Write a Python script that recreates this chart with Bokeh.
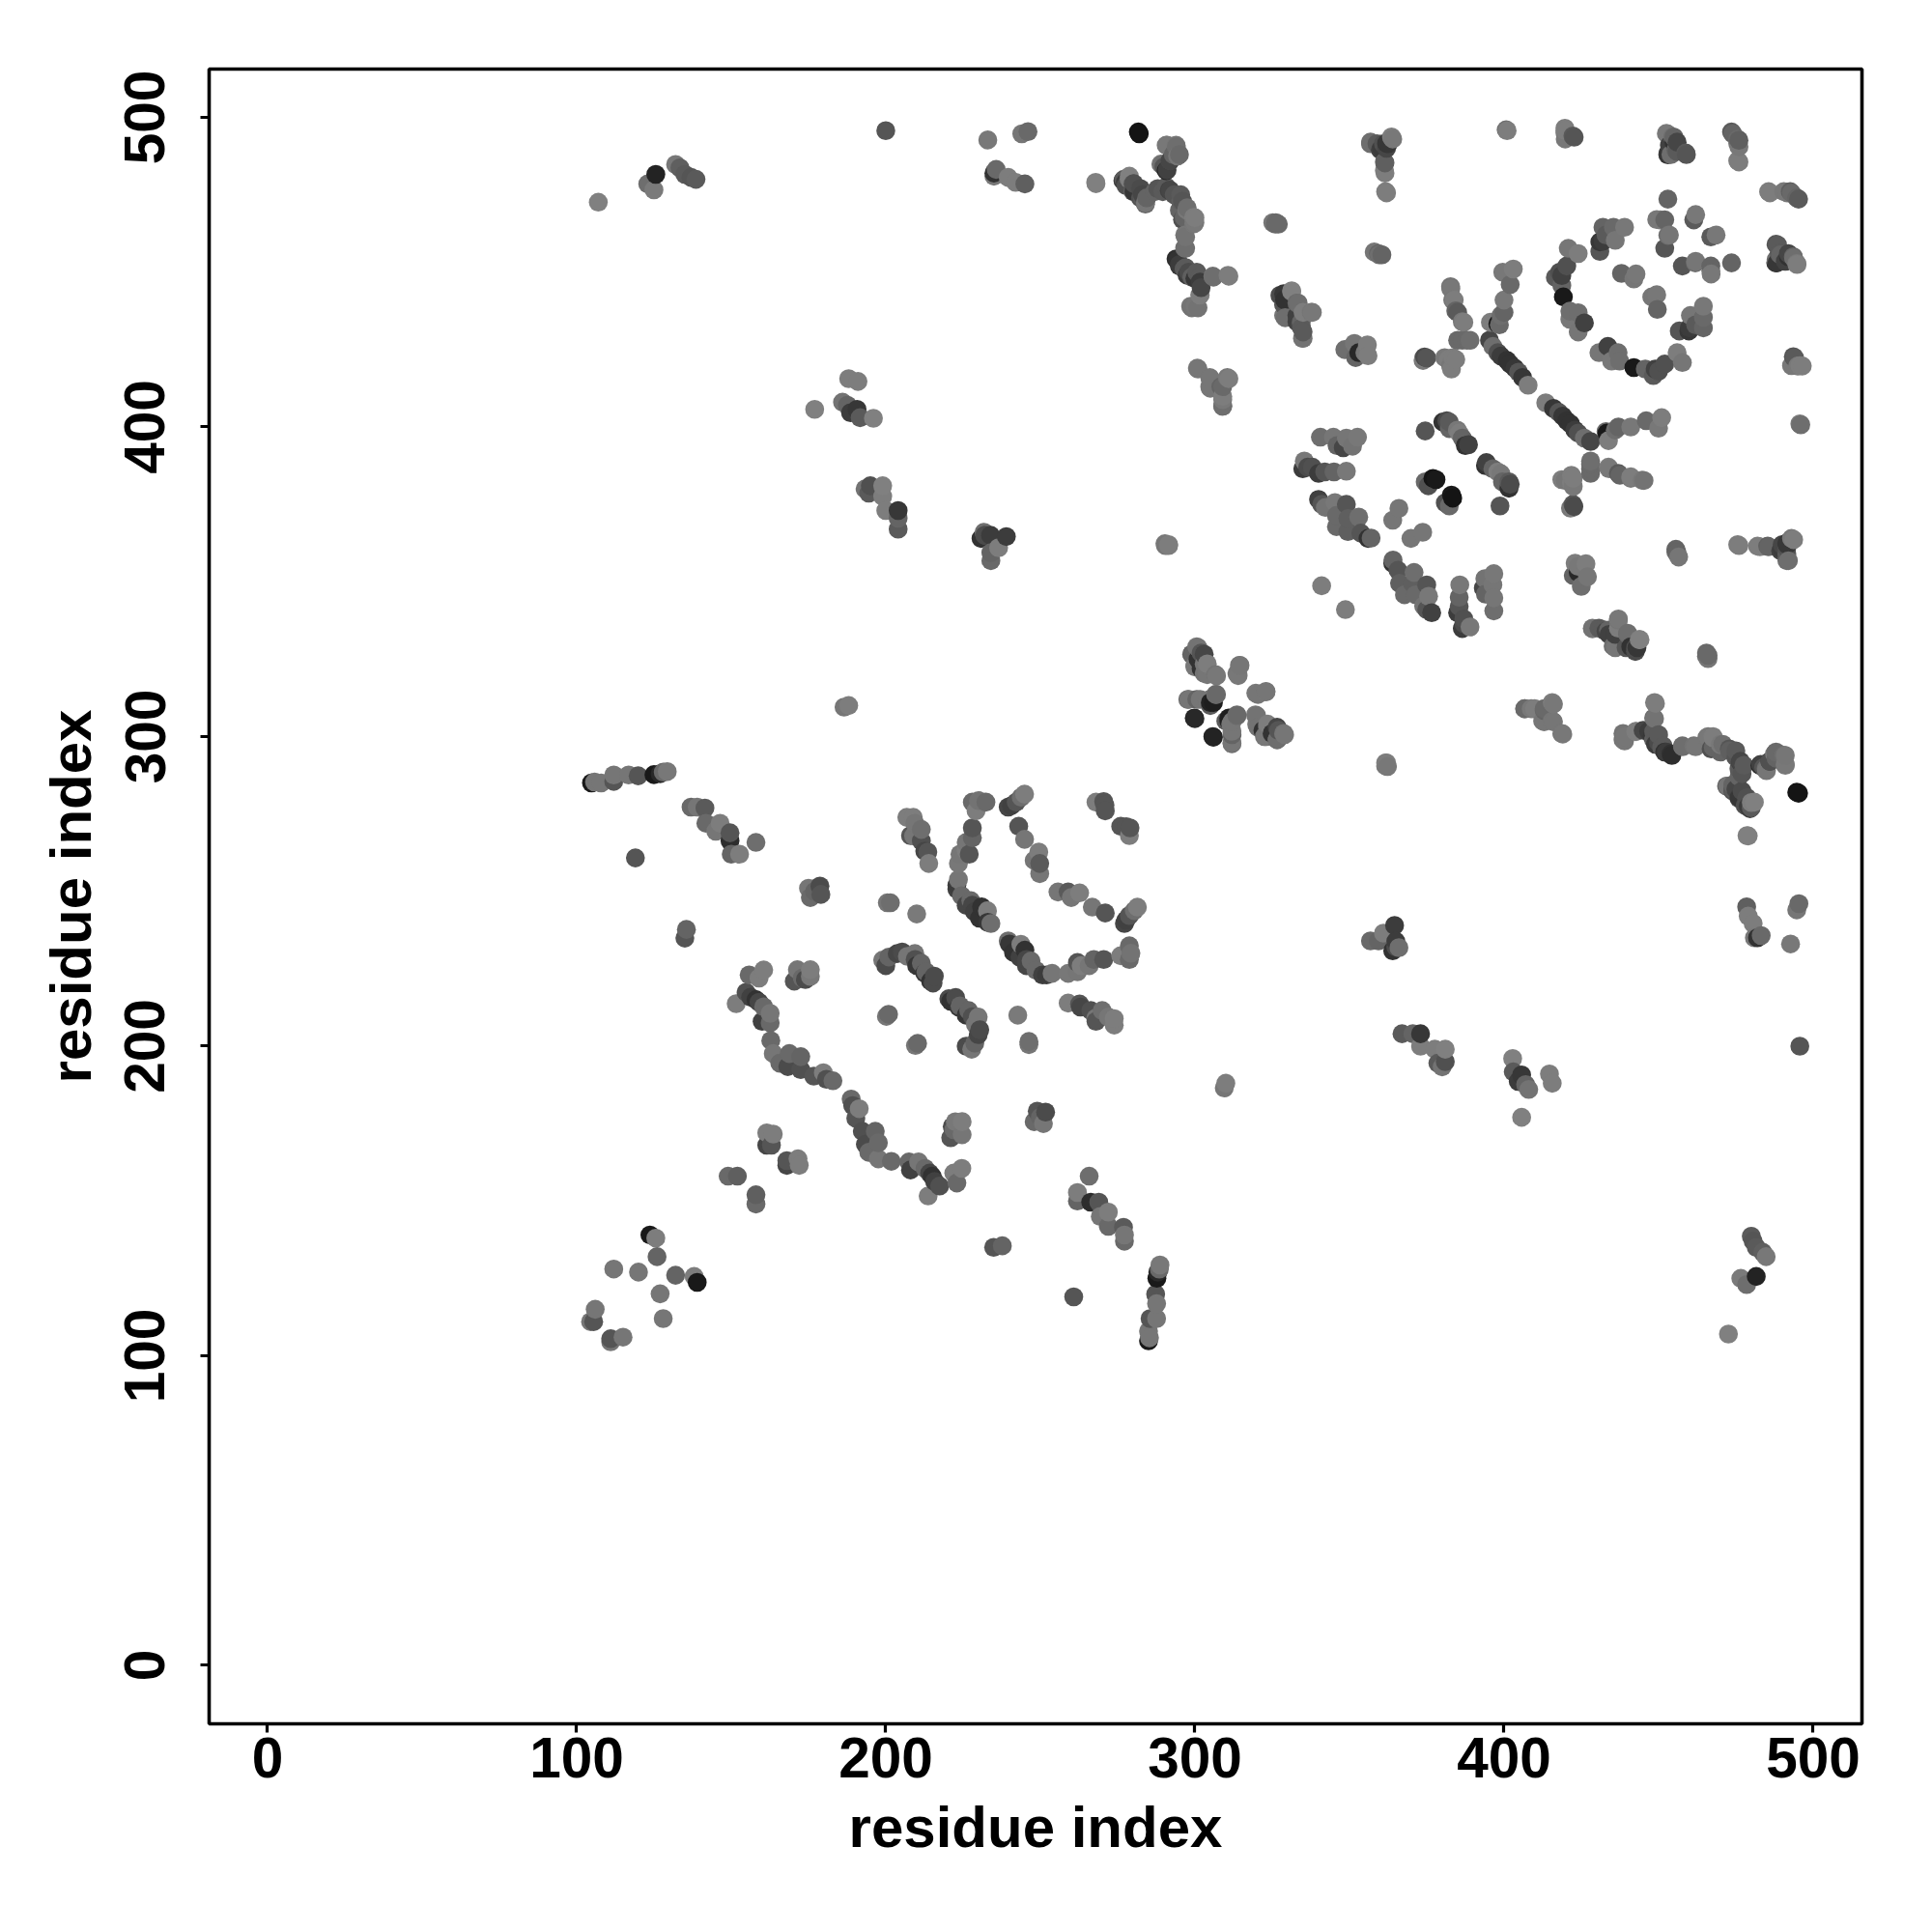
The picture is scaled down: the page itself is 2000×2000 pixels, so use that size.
from bokeh.plotting import figure
from bokeh.models import Range1d, FixedTicker, ColumnDataSource
from bokeh.embed import file_html
from bokeh.resources import INLINE

# contact pairs: (residue a, residue b, grey level 0-255)
# the contact map is symmetric: each pair is also a contact (b, a)
far_top_left = [(107,472.6,128),(123,478.5,110),(125,476.6,122),(125.6,481.6,35),(132,484.8,120),(133.4,483.7,95),(135,481.6,90),(137,480.6,85),(138.6,480,90),(200,495.7,85)]
block_190 = [(177,405.7,128),(188,415.6,125),(191,414.7,125),(186,408,115),(187.6,407,100),(188.6,404.6,60),(190.7,405.7,55),(191.7,403,90),(196,402.8,128),(193.3,380,115),(194.5,378.6,90),(195,381,80),(199,381,128),(199,377.6,125),(200,373,125),(204,373,55),(204,370.5,100),(204,367,90)]
top_240 = [(233,492.7,120),(244,494.7,118),(246,495.4,105),(235.7,483.2,105),(235,481,120),(235,482,50),(239.6,480.6,125),(242,479,125),(245,478.5,95),(268,478.6,128),(282,494.7,20)]
block_290 = [(289.6,484.8,110),(291,483,65),(291,491,120),(292,486,80),(293,488,100),(294,490.5,110),(295,488,105),
 (277,480,90),(277.5,479,60),(278.7,480,125),(277.7,478,80),(280,478.5,85),(280,476,100),(282.4,477,75),(284,472,100),(282.4,474,80),(284.4,474,100),(287,476,100),(289.6,476,90),(291.7,476.4,65),(293.3,475,85),(295.4,473,95),(295,470,100),(297.4,470,120),(296,467,80),(300,467.6,125),(300,466,120),
 (297,461.4,115),(297,457.7,110),(294.4,454,50),(295,452.5,60),(297,451.5,90),(298,450,75),(299,448.4,95),(301.6,448.4,90),(306,448.4,110),(311,448.7,125),(301.6,442.6,125),(299,438.5,115),(301,438.5,115),(302,445,70)]
block_330 = [(326,465.5,105),(327,465.5,105),(327.5,442.5,75),(328.7,442.6,80),(331.3,443.7,125),(329.2,435.3,110),(333,440,105),(333,434,65),(335,437,125),(338,437,120),(334.4,433.8,100),(335,430.7,90),(335,428.6,115)]
block_305 = [(301,418.7,118),(305,415.6,118),(305,412.5,118),(309,413,105),(311,415.6,125),(309,408.8,120),(309,406.7,105)]
top_360 = [(356.8,491.5,110),(358.9,491.5,90),(360.5,490,60),(361,491.5,80),(362.5,491.5,55),(364,493,120),(361.5,485.3,95),(361.5,482,125),(362,475.6,125),(359.6,455.6,110),(360.5,455.6,100)]
top_right = [(401,495.7,125),(419.8,495.7,125),(419.8,493,120),(422.7,493.6,85),(452.8,494.7,120),(455,493.6,100),(456,492,70),(453,487.9,55),(454,488,110),(456,489,90),(459,488,85),
 (474,494.7,100),(476,492.6,95),(476,490.5,120),(476,485.6,125),(486,475.6,125),(491.6,475.6,120),(493,475.6,105),(495.3,473.6,90),
 (488.5,458.8,90),(488.3,453,55),(489.5,455.6,100),(491,453.5,65),(492,455,50),(493.7,454.6,110),(494.8,452.5,125),(494,422.3,90),(495,419.7,120),(496.5,419.7,125),(496,400.7,110)]
ring_440 = [(432,464.5,100),(433,462,90),(435.4,464.5,105),(439,464.5,120),(436,460.3,118),(431,459.8,55),(432,460,60),(431,456.7,85),(420.8,457.7,118),(424,456,125),(420.3,452,80),(418,450,80),(418.7,448.9,65),(416.6,448.3,90),(418.7,445.7,100),(419.2,442,25),(421.3,437.4,110),(424,436.9,110),(421.3,434.8,120),(426,433.6,65),(424,430.7,118),
 (438,449.6,100),(442.7,449.4,120),(442,447.8,118),(453,473.6,100),(450.5,466.9,120),(452,466.9,100),(453,461.9,110),(452,457.7,85),(462,468.6,120),(461.4,466.9,90),(453.5,462,118),(449.4,467,120)]
strand_p = [(395.3,428,70),(396.4,426,110),(398,424,80),(399,422.9,60),(401,421.5,50),(402,420.3,50),(403.5,419,55),(404.7,417.7,85),(406,416,55),(407.8,413.5,125)]
strand_r = [(395.6,433.8,125),(398,433.3,25),(398.5,433,105),(399,436,110),(400,437,100),(400,441,120),(402,446,105),(399.6,450,120),(403,451,125)]
group_385 = [(382.8,444.7,120),(383.9,441,125),(385,437,90),(387,433.8,125),(386.5,428,105),(389,428,110),(374,422.3,125),(375,422.3,85),(382,421.8,125),(384.4,421.8,125),(383,418.7,125)]
strand_s = [(374.5,398.7,85),(380.2,401.6,50),(381.5,402,75),(382.3,401.6,90),(382.3,399.5,100),(384.9,399,120),(385.5,398,125),(386.5,396.4,100),(387.5,394,50),(388.5,394.3,65),(374.5,382.3,105),(375.5,381,80),(377,383.4,20),(378,383,25)]
strand_u = [(340.6,396.7,110),(344.8,396.7,118),(346,394,100),(348,393.3,70),(349,396.4,118),(351,393.8,115),(352.6,396.7,120)]
strand_v = [(335.4,389,120),(334.9,386.5,60),(336.5,387,75),(338,387,80),(340,385,60),(342,385.5,85),(345,385.5,100),(349,385.7,120)]
strand_w = [(340,376.6,65),(341,375,85),(342.2,374,115),(345.3,375.6,120),(349,375,85),(345.8,371.4,105),(345.8,367.8,105),(349.5,370.4,95),(349.5,366.2,95),(353,370.9,110),(353.7,365.7,85),(356,364,50),(357,364.1,100),(364,369.9,118),(366,373.7,118),(341,348.7,125)]
right_380 = [(428,388,105),(428,385,105),(434,386.5,120),(437.5,384.4,100),(441,383.4,118),(445.3,382.7,115),(419.8,382.7,118),(422.4,383.4,125),(422.4,380.8,120),(421.5,373.8,120),(422.6,374.3,75)]
right_355 = [(423,356,125),(426.5,355.8,125),(422.4,352,100),(424,355,120),(424,353,40),(427,351.6,118),(425,348.5,110),(456,359.4,100),(456.5,358,118),(476,361.7,125),(482.8,361.3,125),(485.6,361.3,100),(489.5,360,65),(490,362,70),(492,356.8,110),(491.6,362,55),(493.7,363.6,125)]
right_330 = [(428.6,334.8,120),(432,334.5,90),(433,334,70),(437,337.6,118),(436,333,65),(436,328.7,118),(440,333.4,110),(439.5,328.7,85),(441,329,50),(443,328.7,55),(444,331.3,128),(466,326.2,105),(466,325.2,118)]
right_305 = [(406.7,309,110),(409.9,309,125),(413,308.4,100),(416,310.5,120),(413,304.8,118),(416,304.8,118),(419,300.8,120),(362,291.5,125),(362.3,290.3,120)]
right_300 = [(449,310.7,125),(448.7,305.8,115),(439,300,118),(439,298.6,118),(442.7,301.7,125),(446.8,301.7,60),(448,300,55),(450,300.6,90),(449,297.5,60),(451,296.5,90),(452,295,50),(454.3,293.9,45),(457.8,296.7,110),(462,296.7,118),
 (465.6,299.6,118),(467.7,299.6,125),(467.7,296.5,100),(470.8,297.5,110),(472.9,296,85),(475,295.4,90),(476.5,292,70),(477.6,290.7,90),(477,288,85),
 (482.8,290.7,35),(484,290,85),(484.9,289,118),(486,292,70),(487.5,294.4,118),(491,293.9,118),(491,290.7,120),(495.3,281.7,20),
 (472.4,284,118),(474,283,90),(475,283,70),(476,280.3,55),(478.6,280.3,80),(479.6,276.7,60),(481,278.8,128),(479,267.9,128)]
middle = [(186.5,309.5,118),(188,310,125),(231.8,366,110),(230.8,364,50),(232,365,75),(233.9,365,60),(239,364.6,60),(236.5,361,125),(234,359.4,100),(234,356.8,105),(290.5,361.7,118),(291.5,361.7,125)]
cross_310 = [(299,326.6,110),(301,328.7,115),(303,326.6,70),(304,323.5,125),(300,322.5,118),(304,320,118),(307,319.6,120),(302,322,50),(314.6,323,118),(314,319.7,120),(320.4,313.6,118),(323,314.4,120),(298,312,118),(300.6,312,100),(304,311.6,118),(305,310,90),(306,311,30),(307,313.6,105),(300,305.8,40),(306,299.8,35),(311,305,35),(312,304.8,118),(313.6,306.7,110),(312,301.7,118),(312,297.7,105),(320,306.7,115),(320.4,303,115),(323.5,303,118),(323,300,120),(325,301,50),(327,302,85),(326.6,299,100),(329,300.6,118)]
strand_a = [(206.8,273.9,125),(208.9,273.9,125),(209.4,272,118),(208,268,85),(211.5,270,110),(209,267.9,118),(211.5,266.3,80),(213.6,262.7,85),(212.6,263,70),(213.9,259,125)]
strand_b = [(228,278.8,105),(230,279.3,115),(232.4,278.8,105),(229.2,276,125),(228,270.5,85),(228,267.3,100),(226,265.8,118),(226,263.2,125),(227,262,85),(224,262,118),(223.5,259,120),(223.5,253.8,118),(223,252,60),(223,250.7,65),(224.5,248.6,105),(226,245.5,70),(228,245.5,70),(227.5,247,105),(228.7,243.4,65),(230.3,241.3,50),(231,245,50),(232.9,243.7,125),(233,240,55),(234,239.6,110)]
strand_c = [(244.9,281.4,125),(243.8,280.4,110),(242.2,278.8,85),(240.7,277.7,65),(239.6,277.2,70),(243,271,85),(244.9,266.8,118),(249.5,262.7,125),(248,260,118),(249.8,259,90),(249.8,255.7,118),(268,278.8,125),(270.5,279,85),(270.9,277.8,85),(271,276,85)]
strand_h = [(199,227.8,118),(200,226,75),(201,228.8,100),(203.7,229.9,70),(205.3,230.4,75),(207,229,118),(209.4,229.9,118),(209.5,228,80),(210,226,55),(211.5,226.8,100),(212.6,223.6,55),(213,224,100),(214.5,221,50),(215.7,222.6,75),(215.3,220.4,75)]
singles_200 = [(200.5,246.3,118),(201.5,246.3,110),(210,242.7,122),(200.9,210.3,105),(200.2,209.6,118)]
pairs_175 = [(175,251,118),(175.6,248,105),(177,250,100),(178.7,251.7,75),(179,249,85),(171.4,224.7,118),(170.4,221,85),(173,222,105),(174,221.5,75),(175.6,222.5,120),(175.6,224.7,125)]
strand_low = [(155.8,223,105),(160.5,224.6,125),(159,222,125),(151.6,213.7,125),(154.8,217.4,80),(156.3,215.8,65),(158,215,50),(159,214.2,70),(160.5,212.7,105),(162.6,210.6,118),(162.6,207.5,105),(160,208,65),
 (162.8,201.8,105),(163.6,197.6,118),(165.7,194.5,105),(168.8,197.6,105),(168.3,193.4,75),(172.5,196.6,100),(172.5,192.4,80),(176.7,190.3,85),(179.8,191.4,125),(180.8,189.3,80),(182.9,188.8,105)]
low_pairs = [(161.5,172,125),(163.6,171.6,125),(161.5,168,70),(163,168,85),(149,158,105),(152,158,95),(123.7,139,25),(125.6,138,125),(126,132,100),(120,127,118),(112,128,118),(106,115,118),(105.5,111,85),(104.5,111,118)]
tail_290 = [(104.8,285,25),(105.8,285.3,118),(107.9,285,118),(112,285.5,85),(112,287.6,118),(116.8,287.6,118),(119.9,287.3,85),(125,287.7,25),(127,288,40),(128,288.5,105),(129.3,288.7,120)]
tail_270 = [(137,277.2,105),(139,277.2,118),(141.5,276.9,90),(141.8,272,105),(145,269.4,118),(146.4,272,125),(149.6,266.3,45),(149.6,268.9,85),(150,262,100),(152.7,262,125),(158,265.8,110),(119,260.8,85),(135,234.9,85),(135.5,237.7,100)]

axis_ticks = [0, 100, 200, 300, 400, 500]
axis_title = "residue index"

pairs = (far_top_left + block_190 + top_240 + block_290 + block_330 + block_305 + top_360 + top_right + ring_440 +
         strand_p + strand_r + group_385 + strand_s + strand_u + strand_v + strand_w + right_380 + right_355 +
         right_330 + right_305 + right_300 + middle + cross_310 + strand_a + strand_b + strand_c + strand_h +
         singles_200 + pairs_175 + strand_low + low_pairs + tail_290 + tail_270)
both = pairs + [(b, a, g) for a, b, g in pairs]
both.sort(key=lambda t: (t[0], t[1]))

src = ColumnDataSource(dict(
    x=[t[0] for t in both],
    y=[t[1] for t in both],
    c=["#%02x%02x%02x" % (t[2], t[2], t[2]) for t in both],
))

FONT = "Liberation Sans"
p = figure(width=1988, height=1988, output_backend="svg", toolbar_location=None,
           x_range=Range1d(-18.9, 515.8), y_range=Range1d(-18.9, 515.6),
           min_border_left=216, min_border_right=61, min_border_top=71, min_border_bottom=204,
           background_fill_color="white", border_fill_color="white")
p.scatter("x", "y", source=src, size=19.6, fill_color="c", line_color=None)

p.grid.visible = False
p.outline_line_color = "black"
p.outline_line_width = 3.6
p.outline_line_alpha = 1

for ax in (p.xaxis[0], p.yaxis[0]):
    ax.ticker = FixedTicker(ticks=axis_ticks)
    ax.minor_tick_line_color = None
    ax.axis_line_color = None
    ax.major_tick_in = 0
    ax.major_tick_out = 9
    ax.major_tick_line_color = "black"
    ax.major_tick_line_width = 3.2
    ax.major_label_text_font = FONT
    ax.major_label_text_font_style = "bold"
    ax.major_label_text_font_size = "58.5px"
    ax.major_label_text_color = "black"
    ax.axis_label = axis_title
    ax.axis_label_text_font = FONT
    ax.axis_label_text_font_style = "bold"
    ax.axis_label_text_font_size = "60px"
    ax.axis_label_text_color = "black"
p.xaxis[0].major_label_standoff = 5
p.xaxis[0].axis_label_standoff = 15
p.yaxis[0].major_label_orientation = "vertical"
p.yaxis[0].major_label_standoff = 37
p.yaxis[0].axis_label_standoff = 20

open("out.html", "w").write(file_html(p, INLINE))
